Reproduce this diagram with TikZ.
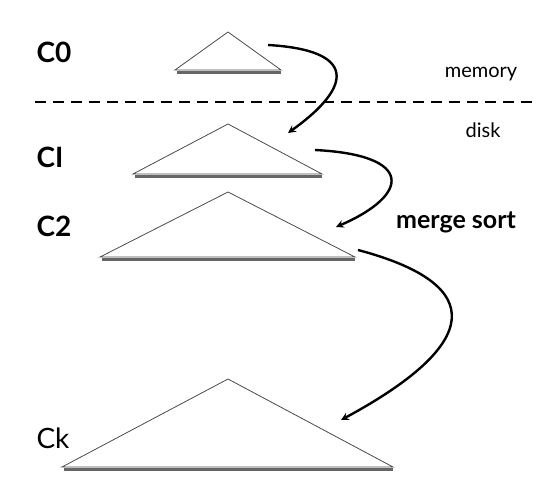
\documentclass[tikz,border=0pt]{standalone}
\usepackage{fontspec}
\setmainfont{Lato}
\usepackage{tikz}

\begin{document}
\begin{tikzpicture}[x=1pt,y=-1pt]
\useasboundingbox (0,0) rectangle (551,494);
\tikzset{tri/.style={draw=black!70,fill=white,line width=0.8pt,line join=miter},
  shade/.style={draw=black!60,line width=3pt},
  lvl/.style={font=\fontsize{28}{30}\selectfont,anchor=west}}

\node[lvl] (c0) at (33,52) {\bfseries C0};
\node[lvl] (c1) at (33,157) {\bfseries CI};
\node[lvl] (c2) at (33,226) {\bfseries C2};
\node[lvl] (ck) at (33,438) {Ck};

\node (mem) at (481,74) {\fontsize{20}{24}\selectfont memory};
\node (dsk) at (483,130) {\fontsize{20}{24}\selectfont disk};
\node (ms) at (456,222) {\fontsize{25}{30}\selectfont\bfseries merge sort};

\draw[dashed,line width=2.2pt,dash pattern=on 11pt off 7pt] (35,102) -- (536,102);

% trees
\draw[shade] (177,72.5) -- (281,72.5);
\draw[tri] (175,70) coordinate (t0l) -- (228,32) -- (281,70) coordinate (t0r) -- cycle;
\draw[shade] (135,176.5) -- (322,176.5);
\draw[tri] (133,174) coordinate (t1l) -- (228,124) -- (322,174) coordinate (t1r) -- cycle;
\draw[shade] (102,259.5) -- (355,259.5);
\draw[tri] (100,257) coordinate (t2l) -- (228,192) -- (355,257) coordinate (t2r) -- cycle;
\draw[shade] (64,469.5) -- (393,469.5);
\draw[tri] (62,467) coordinate (tkl) -- (228,379) -- (393,467) coordinate (tkr) -- cycle;

\coordinate (a0) at (268,45);
\coordinate (b1) at (288,133);
\coordinate (a1) at (315,150);
\coordinate (b2) at (336,227);
\coordinate (a2) at (358,250);
\coordinate (bk) at (341,420);

\draw[->,>=stealth,line width=2.4pt] (a0) .. controls (355,50) and (355,85) .. (b1);
\draw[->,>=stealth,line width=2.4pt] (a1) .. controls (415,155) and (410,195) .. (b2);
\draw[->,>=stealth,line width=2.4pt] (a2) .. controls (490,285) and (480,345) .. (bk);
\end{tikzpicture}
\end{document}
